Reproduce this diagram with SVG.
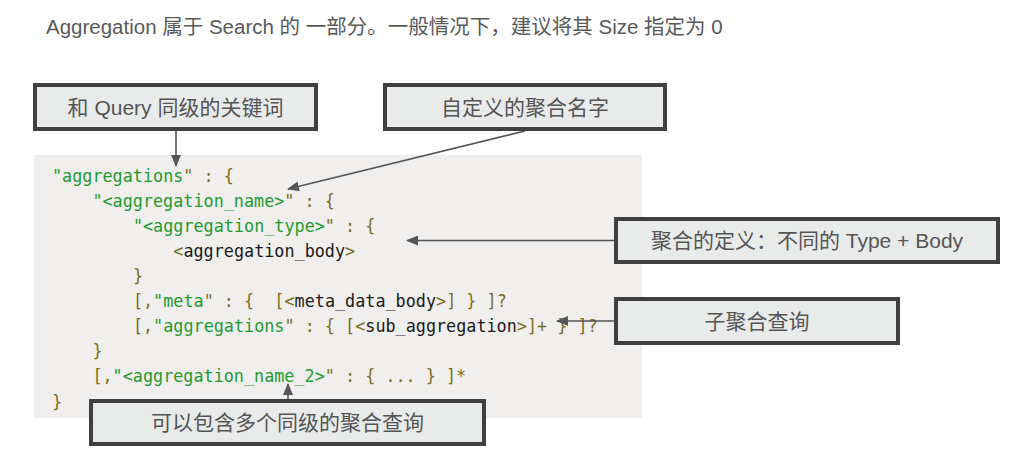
<svg xmlns="http://www.w3.org/2000/svg" width="1015" height="467" viewBox="0 0 1015 467">
  <style>
    .hdr { font-family: "Liberation Sans", "Noto Sans CJK SC", sans-serif; font-size: 20.5px; fill: #595959; }
    .box rect { fill: #e9ebeb; stroke: #404040; stroke-width: 4; }
    .box text { font-family: "Liberation Sans", "Noto Sans CJK SC", sans-serif; font-size: 21px; fill: #555555; text-anchor: middle; dominant-baseline: central; }
    .code { font-family: "DejaVu Sans Mono", "Liberation Mono", monospace; font-size: 16.8px; fill: #7a6f1e; }
    .s { fill: #1f9a2f; }
    .k { fill: #1a1a1a; }
    .conn line { stroke: #555555; stroke-width: 1.6; fill: none; marker-end: url(#ah); }
  </style>
  <defs>
    <marker id="ah" viewBox="0 0 12 10" refX="11" refY="5" markerWidth="12" markerHeight="10" markerUnits="userSpaceOnUse" orient="auto">
      <path d="M0,0 L12,5 L0,10 Z" fill="#555555"/>
    </marker>
  </defs>
  <rect width="1015" height="467" fill="#ffffff"/>
  <text class="hdr" x="46" y="34">Aggregation 属于 Search 的 一部分。一般情况下，建议将其 Size 指定为 0</text>

  <g id="code">
    <rect x="34" y="155" width="608" height="263" fill="#f0efed"/>
    <text class="code" xml:space="preserve" x="52" y="182"><tspan class="s">"aggregations</tspan>" : {</text>
    <text class="code" xml:space="preserve" x="92.4" y="207"><tspan class="s">"&lt;aggregation_name&gt;</tspan>" : {</text>
    <text class="code" xml:space="preserve" x="132.9" y="232"><tspan class="s">"&lt;aggregation_type&gt;</tspan>" : {</text>
    <text class="code" xml:space="preserve" x="173.3" y="257">&lt;<tspan class="k">aggregation_body</tspan>&gt;</text>
    <text class="code" xml:space="preserve" x="132.9" y="282">}</text>
    <text class="code" xml:space="preserve" x="132.9" y="307">[,<tspan class="s">"meta</tspan>" : {  [&lt;<tspan class="k">meta_data_body</tspan>&gt;] } ]?</text>
    <text class="code" xml:space="preserve" x="132.9" y="332">[,<tspan class="s">"aggregations</tspan>" : { [&lt;<tspan class="k">sub_aggregation</tspan>&gt;]+ } ]?</text>
    <text class="code" xml:space="preserve" x="92.4" y="357">}</text>
    <text class="code" xml:space="preserve" x="92.4" y="382">[,<tspan class="s">"&lt;aggregation_name_2&gt;</tspan>" : { ... } ]*</text>
    <text class="code" xml:space="preserve" x="52" y="408">}</text>
  </g>

  <g id="connectors" class="conn">
    <line x1="176" y1="131" x2="176" y2="166"/>
    <line x1="525" y1="131" x2="288" y2="189"/>
    <line x1="614" y1="240.5" x2="407" y2="240.5"/>
    <line x1="614" y1="321" x2="557" y2="321"/>
    <line x1="288" y1="399" x2="288" y2="384"/>
  </g>

  <g id="n1" class="box">
    <rect x="35" y="85" width="281" height="44"/>
    <text x="175.5" y="107">和 Query 同级的关键词</text>
  </g>
  <g id="n2" class="box">
    <rect x="385" y="85" width="280" height="44"/>
    <text x="525" y="107">自定义的聚合名字</text>
  </g>
  <g id="n3" class="box">
    <rect x="616" y="219" width="382" height="43"/>
    <text x="807" y="240.5">聚合的定义：不同的 Type + Body</text>
  </g>
  <g id="n4" class="box">
    <rect x="616" y="299" width="282" height="44"/>
    <text x="757" y="321">子聚合查询</text>
  </g>
  <g id="n5" class="box">
    <rect x="91" y="401" width="393" height="43"/>
    <text x="287.5" y="422.5">可以包含多个同级的聚合查询</text>
  </g>
</svg>
